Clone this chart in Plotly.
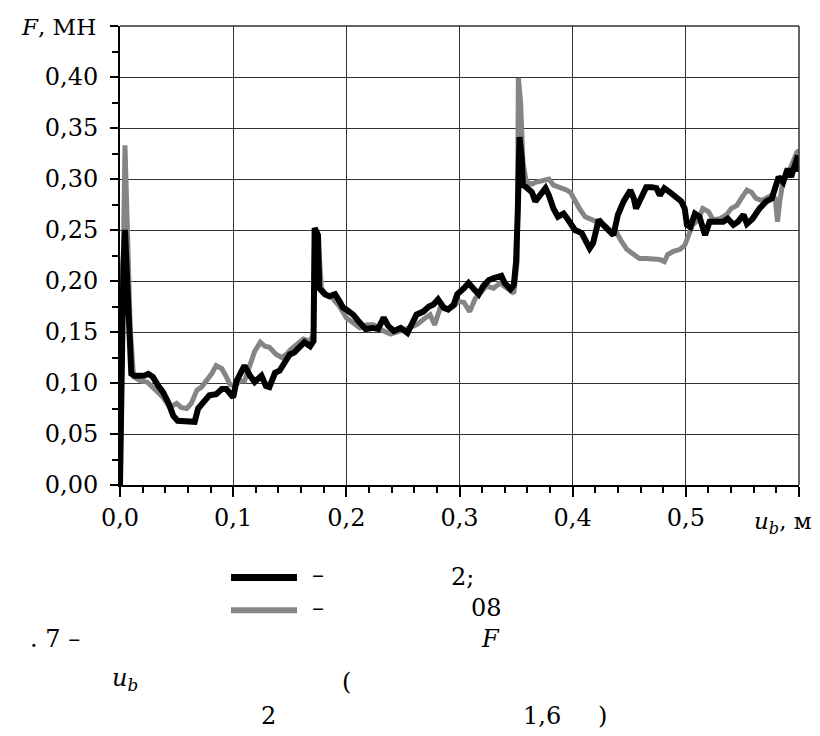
import plotly.graph_objects as go

# ---------------- data ----------------
u_black = [0.0, 0.001, 0.003, 0.0044, 0.0074, 0.010, 0.013, 0.021, 0.025, 0.029,
           0.034, 0.038, 0.043, 0.047, 0.051, 0.056, 0.062, 0.066, 0.069, 0.075,
           0.079, 0.085, 0.090, 0.094, 0.097, 0.100, 0.103, 0.107, 0.110, 0.115,
           0.119, 0.125, 0.129, 0.132, 0.137, 0.141, 0.146, 0.150, 0.154, 0.159,
           0.163, 0.168, 0.171, 0.172, 0.175, 0.176, 0.181, 0.185, 0.190, 0.194,
           0.197, 0.200, 0.206, 0.212, 0.217, 0.223, 0.228, 0.233, 0.237, 0.242,
           0.248, 0.254, 0.258, 0.262, 0.268, 0.273, 0.277, 0.281, 0.286, 0.290,
           0.295, 0.298, 0.304, 0.308, 0.312, 0.317, 0.321, 0.326, 0.331, 0.337,
           0.340, 0.345, 0.348, 0.350, 0.3515, 0.353, 0.355, 0.356, 0.359, 0.364,
           0.367, 0.371, 0.376, 0.379, 0.383, 0.387, 0.392, 0.396, 0.402, 0.408,
           0.412, 0.415, 0.418, 0.423, 0.427, 0.431, 0.436, 0.440, 0.445, 0.451,
           0.454, 0.456, 0.461, 0.465, 0.470, 0.474, 0.477, 0.481, 0.486, 0.492,
           0.496, 0.499, 0.501, 0.504, 0.508, 0.512, 0.517, 0.521, 0.527, 0.533,
           0.537, 0.542, 0.546, 0.551, 0.554, 0.559, 0.565, 0.571, 0.576, 0.579,
           0.582, 0.586, 0.590, 0.593, 0.596, 0.599, 0.600]
F_black = [0.000, 0.120, 0.215, 0.250, 0.154, 0.109, 0.107, 0.107, 0.109, 0.106,
           0.097, 0.091, 0.080, 0.068, 0.063, 0.063, 0.063, 0.062, 0.075, 0.083,
           0.088, 0.089, 0.094, 0.094, 0.089, 0.086, 0.102, 0.112, 0.117, 0.107,
           0.101, 0.107, 0.097, 0.096, 0.110, 0.112, 0.122, 0.128, 0.130, 0.135,
           0.140, 0.136, 0.141, 0.252, 0.245, 0.193, 0.187, 0.185, 0.187, 0.180,
           0.174, 0.172, 0.167, 0.159, 0.153, 0.154, 0.153, 0.164, 0.156, 0.151,
           0.154, 0.149, 0.157, 0.167, 0.170, 0.175, 0.177, 0.182, 0.174, 0.172,
           0.177, 0.187, 0.193, 0.198, 0.193, 0.187, 0.195, 0.201, 0.203, 0.205,
           0.198, 0.192, 0.196, 0.219, 0.268, 0.341, 0.320, 0.294, 0.292, 0.287,
           0.278, 0.284, 0.291, 0.284, 0.271, 0.263, 0.266, 0.260, 0.250, 0.247,
           0.239, 0.232, 0.237, 0.260, 0.255, 0.250, 0.245, 0.265, 0.278, 0.289,
           0.281, 0.271, 0.282, 0.292, 0.292, 0.291, 0.284, 0.291, 0.287, 0.282,
           0.278, 0.271, 0.255, 0.253, 0.266, 0.263, 0.245, 0.258, 0.258, 0.258,
           0.261, 0.255, 0.258, 0.265, 0.256, 0.261, 0.271, 0.278, 0.281, 0.292,
           0.302, 0.297, 0.310, 0.302, 0.313, 0.323, 0.307]

u_grey = [0.0, 0.002, 0.0044, 0.0065, 0.009, 0.012, 0.018, 0.024, 0.028, 0.032,
          0.038, 0.044, 0.050, 0.054, 0.059, 0.063, 0.068, 0.072, 0.076, 0.081,
          0.085, 0.090, 0.094, 0.097, 0.101, 0.106, 0.110, 0.115, 0.119, 0.124,
          0.128, 0.132, 0.138, 0.143, 0.147, 0.151, 0.156, 0.162, 0.168, 0.171,
          0.172, 0.175, 0.178, 0.182, 0.188, 0.194, 0.200, 0.206, 0.212, 0.218,
          0.224, 0.233, 0.239, 0.248, 0.256, 0.262, 0.270, 0.274, 0.278, 0.283,
          0.289, 0.295, 0.299, 0.304, 0.309, 0.314, 0.318, 0.324, 0.330, 0.336,
          0.342, 0.348, 0.351, 0.352, 0.354, 0.356, 0.359, 0.364, 0.368, 0.374,
          0.379, 0.383, 0.389, 0.395, 0.398, 0.402, 0.406, 0.411, 0.415, 0.420,
          0.424, 0.428, 0.433, 0.439, 0.443, 0.448, 0.454, 0.459, 0.465, 0.471,
          0.477, 0.481, 0.484, 0.489, 0.495, 0.499, 0.502, 0.506, 0.511, 0.515,
          0.520, 0.524, 0.530, 0.536, 0.540, 0.545, 0.549, 0.554, 0.558, 0.562,
          0.567, 0.571, 0.576, 0.579, 0.581, 0.583, 0.586, 0.590, 0.593, 0.598,
          0.600]
F_grey = [0.000, 0.200, 0.333, 0.252, 0.154, 0.106, 0.102, 0.101, 0.097, 0.093,
          0.086, 0.076, 0.080, 0.076, 0.075, 0.080, 0.093, 0.096, 0.101, 0.109,
          0.117, 0.114, 0.106, 0.099, 0.097, 0.102, 0.102, 0.119, 0.131, 0.140,
          0.136, 0.135, 0.128, 0.125, 0.128, 0.133, 0.138, 0.143, 0.141, 0.148,
          0.248, 0.242, 0.193, 0.187, 0.183, 0.175, 0.164, 0.159, 0.154, 0.157,
          0.157, 0.151, 0.148, 0.151, 0.154, 0.157, 0.164, 0.167, 0.157, 0.174,
          0.172, 0.175, 0.180, 0.179, 0.170, 0.183, 0.188, 0.195, 0.193, 0.198,
          0.193, 0.188, 0.219, 0.399, 0.375, 0.317, 0.297, 0.295, 0.297, 0.299,
          0.300, 0.294, 0.292, 0.289, 0.287, 0.278, 0.271, 0.263, 0.261, 0.258,
          0.256, 0.255, 0.250, 0.247, 0.239, 0.231, 0.226, 0.222, 0.222, 0.221,
          0.221, 0.219, 0.226, 0.229, 0.231, 0.235, 0.245, 0.255, 0.260, 0.271,
          0.268, 0.260, 0.261, 0.265, 0.271, 0.274, 0.281, 0.289, 0.287, 0.281,
          0.279, 0.281, 0.284, 0.281, 0.258, 0.278, 0.299, 0.304, 0.313, 0.326,
          0.328]

x_ticks = [0.0, 0.1, 0.2, 0.3, 0.4, 0.5, 0.6]
y_ticks = [0.0, 0.05, 0.10, 0.15, 0.20, 0.25, 0.30, 0.35, 0.40, 0.45]
x_ticktext = ["0,0", "0,1", "0,2", "0,3", "0,4", "0,5", " "]
y_ticktext = ["0,00", "0,05", "0,10", "0,15", "0,20", "0,25", "0,30", "0,35", "0,40", " "]
X_MAX, Y_MAX = 0.6, 0.45

# ---------------- layout geometry ----------------
W, H = 820, 736
ML, MR, MT, MB = 120, 21, 23, 251
PW, PH = W - ML - MR, H - MT - MB


def px(x):
    return (x - ML) / PW


def py(y):
    return (H - MB - y) / PH


FONT = "DejaVu Serif"
GRID = "#333333"

fig = go.Figure()
fig.add_trace(go.Scatter(x=u_grey, y=F_grey, mode="lines",
                         line=dict(color="#858585", width=5), showlegend=False))
fig.add_trace(go.Scatter(x=u_black, y=F_black, mode="lines",
                         line=dict(color="#000000", width=6), showlegend=False))

axis_common = dict(
    showgrid=True, gridcolor=GRID, gridwidth=1,
    showline=True, linecolor="black", linewidth=2,
    ticks="outside", tickcolor="black", tickwidth=2,
    zeroline=False, tickfont=dict(family=FONT, size=24, color="black"),
)

fig.update_xaxes(range=[0, X_MAX], tickmode="array", tickvals=x_ticks,
                 ticktext=x_ticktext, ticklen=10,
                 minor=dict(dtick=0.02, ticks="outside", ticklen=6,
                            tickcolor="black", tickwidth=2, showgrid=False),
                 **axis_common)
fig.update_yaxes(range=[0, Y_MAX], tickmode="array", tickvals=y_ticks,
                 ticktext=y_ticktext, ticklen=8, ticklabelstandoff=7,
                 minor=dict(dtick=0.025, ticks="outside", ticklen=6,
                            tickcolor="black", tickwidth=2, showgrid=False),
                 **axis_common)

ann = []


def text(t, x, y, xanchor="left", size=24):
    ann.append(dict(text=t, x=px(x), y=py(y), xref="paper", yref="paper",
                    xanchor=xanchor, yanchor="middle", showarrow=False,
                    font=dict(family=FONT, size=size, color="black")))


text("<i>F</i>, МН", 98, 24, xanchor="right", size=23)
text("<i>u</i><sub><i>b</i></sub>, м", 752, 523, size=23)
text("–", 310, 576)
text("2;", 449, 578)
text("–", 310, 609)
text("08", 469, 609)
text(". 7 –", 28, 640)
text("<i>F</i>", 479, 640)
text("<i>u</i><sub><i>b</i></sub>", 110, 681)
text("(", 340, 683)
text("2", 259, 718)
text("1,6", 521, 718)
text(")", 596, 718)

shapes = [
    # frame lines at the top and right ends of the plot area
    dict(type="line", xref="paper", yref="paper", x0=0, x1=1, y0=1, y1=1,
         line=dict(color=GRID, width=1.5), layer="above"),
    dict(type="line", xref="paper", yref="paper", x0=1, x1=1, y0=0, y1=1,
         line=dict(color=GRID, width=1.5), layer="above"),
    # legend samples
    dict(type="line", xref="paper", yref="paper", x0=px(231), x1=px(297),
         y0=py(578), y1=py(578), line=dict(color="black", width=7)),
    dict(type="line", xref="paper", yref="paper", x0=px(231), x1=px(297),
         y0=py(611), y1=py(611), line=dict(color="#858585", width=6)),
]

fig.update_layout(
    width=W, height=H,
    margin=dict(l=ML, r=MR, t=MT, b=MB),
    paper_bgcolor="white", plot_bgcolor="white",
    font=dict(family=FONT, color="black"),
    annotations=ann, shapes=shapes, showlegend=False,
)

fig.write_html("out.html")
